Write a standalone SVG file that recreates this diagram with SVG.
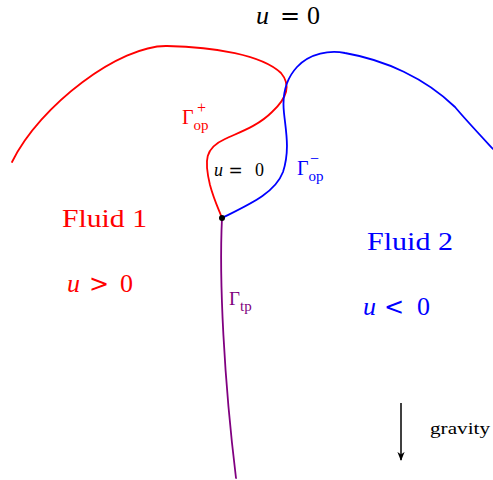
<svg xmlns="http://www.w3.org/2000/svg" width="493" height="480" viewBox="0 0 493 480">
<style>
.c{fill:none;stroke-width:1.8;stroke-linecap:round;stroke-linejoin:round}
.t{font-family:"Liberation Serif","DejaVu Serif",serif}
.m{font-style:italic}
.o{font-family:"DejaVu Sans",sans-serif}
.r{fill:#ff0000}.b{fill:#0000ff}.p{fill:#800080}.k{fill:#000}
</style>
<defs>
<marker id="ah" viewBox="0 0 10 10" refX="9" refY="5" markerWidth="9" markerHeight="9" markerUnits="userSpaceOnUse" orient="auto">
<path d="M0,1 L10,5 L0,9 L3,5 Z" fill="#000"/>
</marker>
</defs>
<g id="connectors">
<path class="c" stroke="#ff0000" d="M12,162 C40,105 120,45 167,46 C215,47 262,55 281,73 C292,86 285,100 272,112 C258,126 240,132 225,139 C205,148 204,160 210,185 C214,200 219,210 222,218"/>
<path class="c" stroke="#0000ff" d="M222,218 C250,204 275,193 283,172 C290,150 286,132 284,113 C282,95 285,80 297,67 C310,53 330,50 345,53 C385,60 425,78 455,107 C465,119 480,135 493,149"/>
<path class="c" stroke="#800080" d="M222,218 C219,280 224,380 236,478"/>
<path fill="none" stroke="#000" stroke-width="1.5" d="M401,403 L401,460" marker-end="url(#ah)"/>
</g>
<g id="junction"><circle cx="222" cy="218" r="3" fill="#000"/></g>
<g id="top-label"><text class="t k" y="24" font-size="26"><tspan class="m" x="256">u</tspan><tspan class="o" x="280" font-size="24">=</tspan><tspan x="307">0</tspan></text></g>
<g id="inner-label"><text class="t k" y="176" font-size="18"><tspan class="m" x="214">u</tspan><tspan class="o" x="228.5" font-size="17">=</tspan><tspan x="255">0</tspan></text></g>
<g id="gamma-op-plus"><text class="t r" x="182" y="124" font-size="20">Γ<tspan font-size="15" dy="6">op</tspan><tspan font-size="16" x="197" dy="-17">+</tspan></text></g>
<g id="gamma-op-minus"><text class="t b" x="297" y="175" font-size="20">Γ<tspan font-size="15" dy="6">op</tspan><tspan font-size="16" x="310" dy="-17">−</tspan></text></g>
<g id="gamma-tp"><text class="t p" x="229" y="305" font-size="19">Γ<tspan font-size="15" dy="6">tp</tspan></text></g>
<g id="fluid1"><text class="t r" x="62" y="227" font-size="26" textLength="85" lengthAdjust="spacingAndGlyphs">Fluid 1</text>
<text class="t r" y="292" font-size="26"><tspan class="m" x="67">u</tspan><tspan class="o" x="89" font-size="24">&gt;</tspan><tspan x="120">0</tspan></text></g>
<g id="fluid2"><text class="t b" x="367" y="250" font-size="26" textLength="86" lengthAdjust="spacingAndGlyphs">Fluid 2</text>
<text class="t b" y="315" font-size="26"><tspan class="m" x="363">u</tspan><tspan class="o" x="384" font-size="24">&lt;</tspan><tspan x="417">0</tspan></text></g>
<g id="gravity"><text class="t k" x="430" y="434" font-size="17" textLength="60" lengthAdjust="spacingAndGlyphs">gravity</text></g>
</svg>
